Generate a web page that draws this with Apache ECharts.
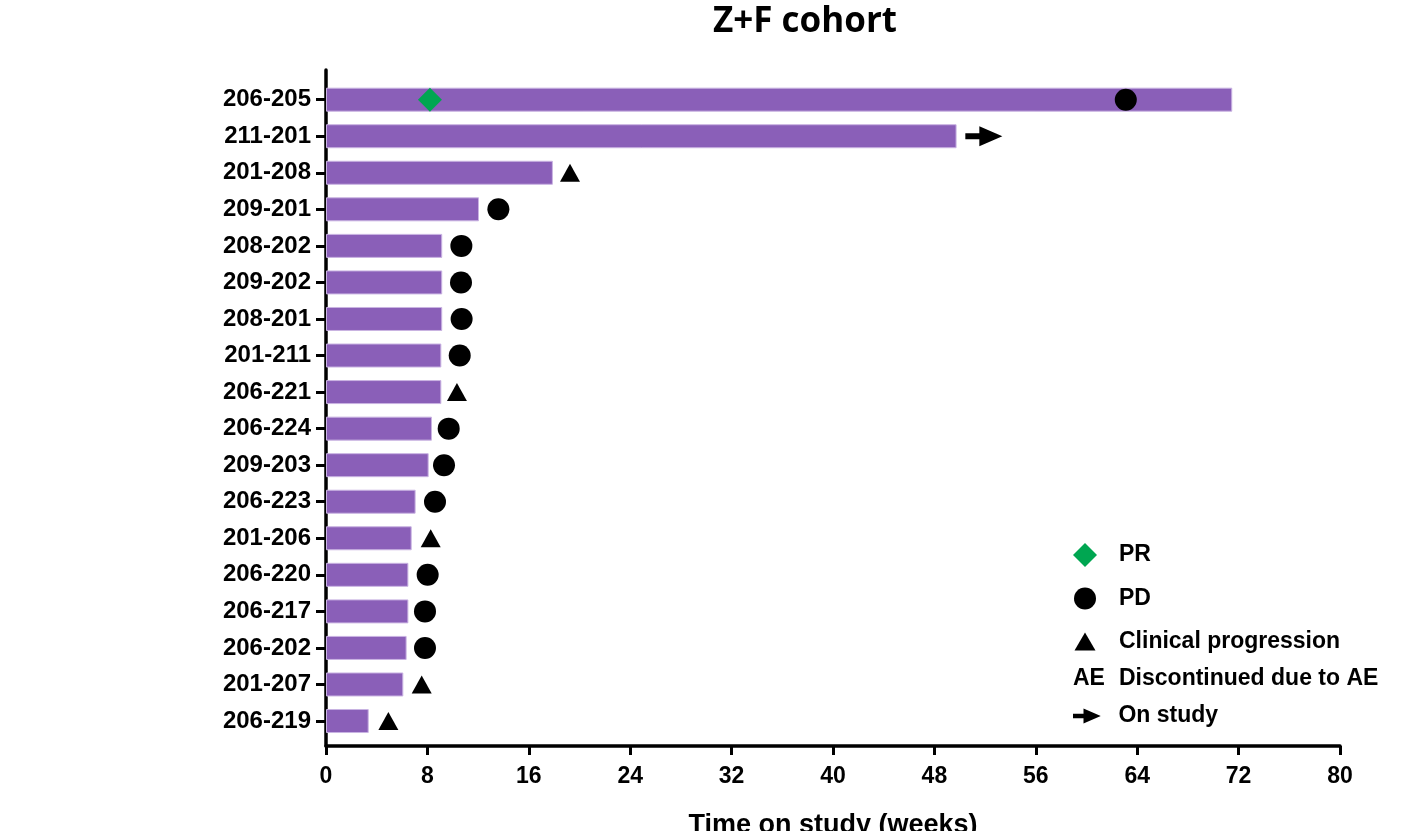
<!DOCTYPE html>
<html>
<head>
<meta charset="utf-8">
<script src="https://cdn.jsdelivr.net/npm/echarts@6/dist/echarts.min.js"></script>
<style>html,body{margin:0;padding:0;background:#fff}#c{width:1412px;height:831px}</style>
</head>
<body>
<div id="c"></div>
<script>
// ---- data ----
var patients = ['206-205','211-201','201-208','209-201','208-202','209-202','208-201','201-211','206-221','206-224','209-203','206-223','201-206','206-220','206-217','206-202','201-207','206-219'];
var weeksOnStudy = [71.5, 49.75, 17.9, 12.07, 9.17, 9.17, 9.17, 9.1, 9.1, 8.36, 8.1, 7.07, 6.76, 6.5, 6.5, 6.36, 6.1, 3.37];
var prPoints = [[8.2, '206-205']];
var pdPoints = [[63.1, '206-205'], [13.6, '209-201'], [10.68, '208-202'], [10.65, '209-202'], [10.7, '208-201'], [10.55, '201-211'], [9.68, '206-224'], [9.31, '209-203'], [8.6, '206-223'], [8.02, '206-220'], [7.81, '206-217'], [7.81, '206-202']];
var clinicalPoints = [[19.25, '201-208'], [10.33, '206-221'], [8.26, '201-206'], [7.55, '201-207'], [4.92, '206-219']];
var aePoints = [];
var onStudyPoints = [[51.9, '211-201']];
var xTicks = {min: 0, max: 80, interval: 8};

var FONT = '"Liberation Sans", Arial, sans-serif';
var arrowPath = 'path://M0,7 L14,7 L14,0 L37,10 L14,20 L14,13 L0,13 Z';
var LFS = 23;
function legendTextStyle(pad) {
  return {
    fontFamily: FONT, fontWeight: 'bold', fontSize: LFS, color: '#000',
    rich: {
      t: {fontFamily: FONT, fontWeight: 'bold', fontSize: LFS, color: '#000', padding: [0, 0, 0, pad]},
      ae: {fontFamily: FONT, fontWeight: 'bold', fontSize: LFS, color: '#000', width: 46}
    }
  };
}
function oneLegend(name, icon, cx, cy, w, h, textX) {
  var left = cx - w / 2;
  return {
    data: [{name: name, icon: icon}],
    left: left, top: cy - h / 2, itemWidth: w, itemHeight: h,
    padding: 0, selectedMode: false,
    formatter: function (n) { return '{t|' + n + '}'; },
    textStyle: legendTextStyle(textX - (left + w + 5))
  };
}

var chart = echarts.init(document.getElementById('c'));
chart.setOption({
  animation: false,
  backgroundColor: '#fff',
  title: {
    text: 'Z+F cohort', left: 800, top: 0, textAlign: 'center',
    textStyle: {fontFamily: '"Open Sans", sans-serif', fontWeight: 'bold', fontSize: 35, color: '#000'}
  },
  legend: [
    oneLegend('PR', 'diamond', 1085, 555, 24, 24, 1119),
    oneLegend('PD', 'circle', 1085, 598, 22, 22, 1119),
    oneLegend('Clinical progression', 'triangle', 1085, 639, 21, 18, 1119),
    {
      data: [{name: 'Discontinued due to AE', icon: 'rect', itemStyle: {color: 'rgba(0,0,0,0)'}}],
      left: 1067, top: 677 - 10, itemWidth: 1, itemHeight: 20, padding: 0, selectedMode: false,
      formatter: function (n) { return '{ae|AE}{t|' + n + '}'; },
      textStyle: legendTextStyle(0)
    },
    oneLegend('On study', arrowPath, 1087.5, 712, 29, 15, 1119)
  ],
  grid: [
    {left: 326, right: 72, top: 70, bottom: 85, outerBoundsMode: 'none', containLabel: false},
    {left: 326, right: 72, top: 81.4, bottom: 91.7, outerBoundsMode: 'none', containLabel: false}
  ],
  xAxis: [
    {
      gridIndex: 0, type: 'value', min: xTicks.min, max: xTicks.max, interval: xTicks.interval,
      name: 'Time on study (weeks)', nameLocation: 'middle', nameGap: 66,
      nameTextStyle: {fontFamily: FONT, fontWeight: 'bold', fontSize: 27, color: '#000'},
      axisLine: {show: true, onZero: false, lineStyle: {color: '#000', width: 3.5}},
      axisTick: {show: true, length: 9, lineStyle: {color: '#000', width: 3}},
      axisLabel: {margin: 19, fontFamily: FONT, fontWeight: 'bold', fontSize: 23, color: '#000'},
      splitLine: {show: false}
    },
    {gridIndex: 1, type: 'value', min: xTicks.min, max: xTicks.max, show: false}
  ],
  yAxis: [
    {
      gridIndex: 0, type: 'value', min: 0, max: 1,
      axisLine: {show: true, onZero: false, lineStyle: {color: '#000', width: 3.5}},
      axisTick: {show: false}, axisLabel: {show: false}, splitLine: {show: false}
    },
    {
      gridIndex: 1, type: 'category', data: patients, inverse: true,
      axisLine: {show: false},
      axisTick: {show: true, alignWithLabel: true, length: 10, lineStyle: {color: '#000', width: 3}},
      axisLabel: {margin: 15, fontFamily: FONT, fontWeight: 'bold', fontSize: 24, color: '#000'},
      splitLine: {show: false}
    }
  ],
  series: [
    {
      name: 'Weeks', type: 'bar', xAxisIndex: 1, yAxisIndex: 1, data: weeksOnStudy, barWidth: 24,
      itemStyle: {color: '#8a5fb8', borderColor: '#c9b3e2', borderWidth: 1}, z: 2
    },
    {
      name: 'PR', type: 'scatter', xAxisIndex: 1, yAxisIndex: 1, data: prPoints,
      symbol: 'diamond', symbolSize: [24, 24], itemStyle: {color: '#00a651', opacity: 1}, z: 5
    },
    {
      name: 'PD', type: 'scatter', xAxisIndex: 1, yAxisIndex: 1, data: pdPoints,
      symbol: 'circle', symbolSize: 22, itemStyle: {color: '#000', opacity: 1}, z: 5
    },
    {
      name: 'Clinical progression', type: 'scatter', xAxisIndex: 1, yAxisIndex: 1, data: clinicalPoints,
      symbol: 'triangle', symbolSize: [20, 18], itemStyle: {color: '#000', opacity: 1}, z: 5
    },
    {
      name: 'Discontinued due to AE', type: 'scatter', xAxisIndex: 1, yAxisIndex: 1, data: aePoints,
      symbol: 'rect', itemStyle: {color: '#000', opacity: 1}, z: 5
    },
    {
      name: 'On study', type: 'scatter', xAxisIndex: 1, yAxisIndex: 1, data: onStudyPoints,
      symbol: arrowPath, symbolSize: [37, 20], itemStyle: {color: '#000', opacity: 1}, z: 5
    }
  ]
});
</script>
</body>
</html>
